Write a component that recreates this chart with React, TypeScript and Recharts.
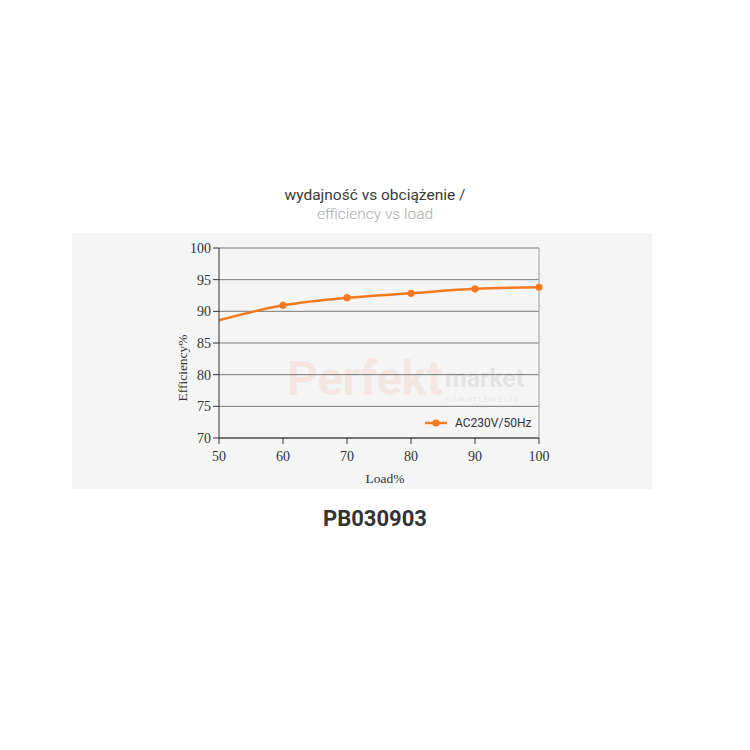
import React from 'react';
import { LineChart, Line, XAxis, YAxis, CartesianGrid, ReferenceLine, Label } from 'recharts';

const loadPct = [50, 60, 70, 80, 90, 100];
const efficiency = [88.6, 90.95, 92.15, 92.85, 93.55, 93.8];
const xTicks = [50, 60, 70, 80, 90, 100];
const yTicks = [70, 75, 80, 85, 90, 95, 100];
const seriesName = 'AC230V/50Hz';

const data = loadPct.map((l, i) => ({ load: l, eff: efficiency[i] }));

const ORANGE = '#f47a20';
const SERIF = '"Liberation Serif", "DejaVu Serif", serif';

const Dot = (props: any) => {
  const { cx, cy, index } = props;
  if (index === 0) return <g key={`d${index}`} />;
  return <circle key={`d${index}`} cx={cx} cy={cy} r={3.6} fill={ORANGE} stroke="none" />;
};

export default function App() {
  return (
    <div style={{ position: 'absolute', left: 0, top: 0, width: 750, height: 750, background: '#fff', fontFamily: 'Roboto, sans-serif' }}>
      <div style={{ position: 'absolute', left: 0, width: 750, top: 186, textAlign: 'center', fontSize: 15.5, color: '#3a3a3a', lineHeight: '19px' }}>
        wydajność vs obciążenie /
      </div>
      <div style={{ position: 'absolute', left: 0, width: 750, top: 205, textAlign: 'center', fontSize: 15.5, color: '#ababab', fontWeight: 300, lineHeight: '19px' }}>
        efficiency vs load
      </div>
      <div style={{ position: 'absolute', left: 72, top: 233, width: 580, height: 256, background: '#f5f5f5' }} />
      <div style={{ position: 'absolute', left: 287, top: 354, fontSize: 48, fontWeight: 700, color: 'rgba(244,130,80,0.12)', lineHeight: '50px', letterSpacing: -0.5, whiteSpace: 'nowrap' }}>
        Perfekt
      </div>
      <div style={{ position: 'absolute', left: 445, top: 365, fontSize: 25, fontWeight: 700, color: 'rgba(110,110,110,0.14)', lineHeight: '28px', whiteSpace: 'nowrap' }}>
        market
      </div>
      <div style={{ position: 'absolute', left: 446, top: 395, fontSize: 8, fontWeight: 700, color: 'rgba(110,110,110,0.10)', lineHeight: '10px', letterSpacing: 0.5, whiteSpace: 'nowrap' }}>
        OŚWIETLENIE LTD
      </div>
      <div style={{ position: 'absolute', left: 72, top: 233 }}>
        <LineChart width={580} height={256} data={data} margin={{ top: 15, right: 113, left: 107, bottom: 21 }}>
          <CartesianGrid horizontal vertical={false} stroke="#7a7a7a" strokeWidth={1} />
          <XAxis
            dataKey="load"
            type="number"
            domain={[50, 100]}
            ticks={xTicks}
            height={30}
            stroke="#333"
            tickSize={6}
            tickLine={{ stroke: '#333' }}
            tick={{ fill: '#333', fontFamily: SERIF, fontSize: 14 }}
            tickMargin={7}
          >
            <Label
              content={() => (
                <text x={313} y={250} textAnchor="middle" fontFamily={SERIF} fontSize={13.5} fill="#333">Load%</text>
              )}
            />
          </XAxis>
          <YAxis
            type="number"
            domain={[70, 100]}
            ticks={yTicks}
            width={40}
            stroke="#333"
            tickSize={6}
            tickLine={{ stroke: '#333' }}
            tick={{ fill: '#333', fontFamily: SERIF, fontSize: 14 }}
            tickMargin={2}
            interval={0}
          >
            <Label
              content={() => (
                <text x={110} y={135} transform="rotate(-90 110 135)" textAnchor="middle" dominantBaseline="central" fontFamily={SERIF} fontSize={13.5} fill="#333">Efficiency%</text>
              )}
            />
          </YAxis>
          <ReferenceLine x={100} stroke="#9a9a9a" strokeWidth={1} />
          <Line
            type="monotone"
            dataKey="eff"
            name={seriesName}
            stroke={ORANGE}
            strokeWidth={2.5}
            dot={<Dot />}
            activeDot={false}
            isAnimationActive={false}
          />
        </LineChart>
      </div>
      <div style={{ position: 'absolute', left: 425, top: 415, display: 'flex', alignItems: 'center', fontFamily: 'Roboto, "Noto Sans", sans-serif', fontSize: 12, color: '#333', lineHeight: '16px' }}>
        <svg width={22} height={10} style={{ marginRight: 8 }}>
          <line x1={0} y1={5} x2={22} y2={5} stroke={ORANGE} strokeWidth={2.5} />
          <circle cx={11} cy={5} r={3.6} fill={ORANGE} />
        </svg>
        <span>{seriesName}</span>
      </div>
      <div style={{ position: 'absolute', left: 0, width: 750, top: 506, textAlign: 'center', fontSize: 22, fontWeight: 700, color: '#333', lineHeight: '26px' }}>
        PB030903
      </div>
    </div>
  );
}
